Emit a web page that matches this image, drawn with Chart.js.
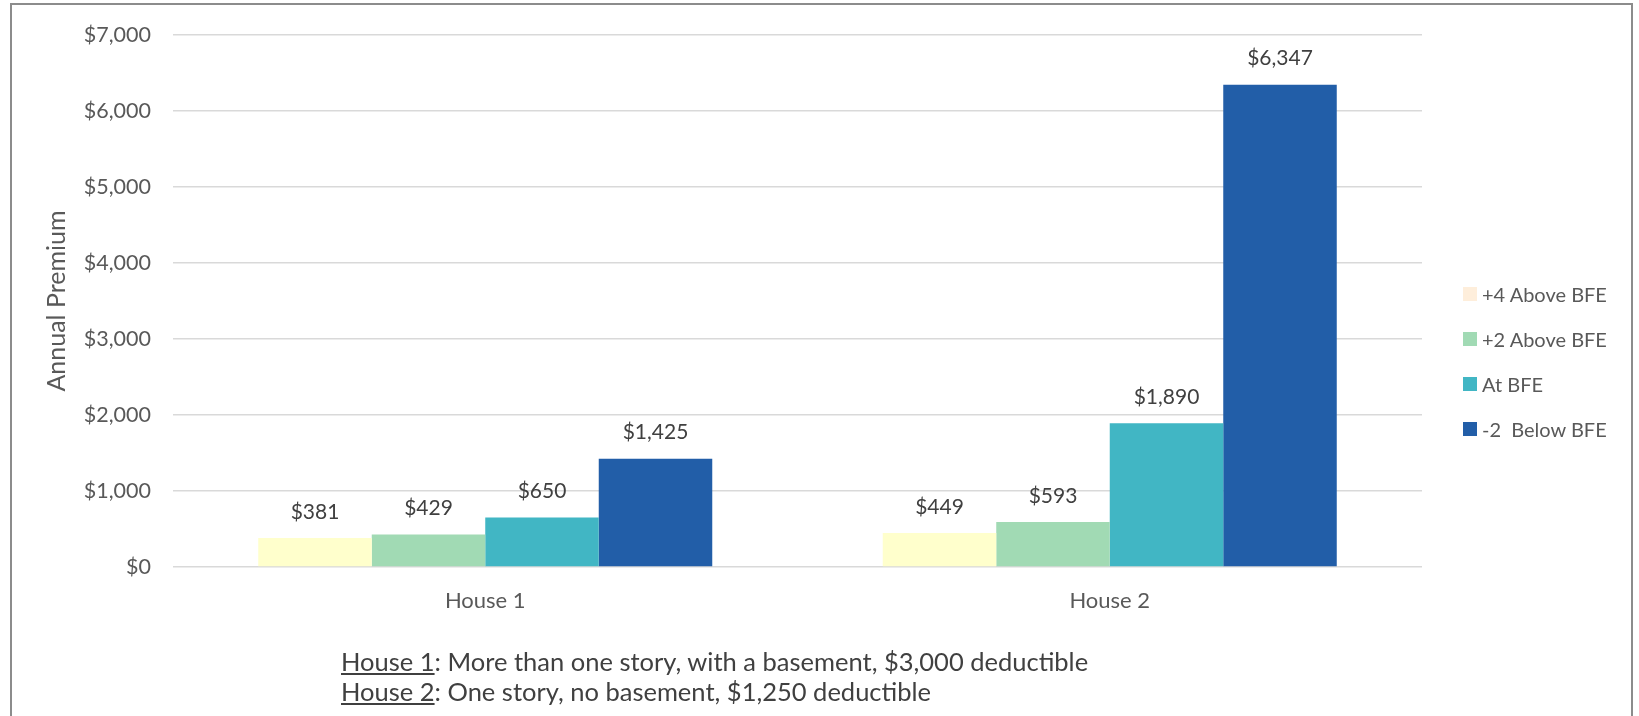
<!DOCTYPE html>
<html>
<head>
<meta charset="utf-8">
<script src="https://cdn.jsdelivr.net/npm/chart.js@4"></script>
<style>
  body { margin: 0; background: #fff; font-family: Lato, sans-serif; }
  #frame {
    position: absolute; left: 10px; top: 3px; width: 1623px; height: 730px;
    border: 2px solid #8c8c8c; box-sizing: border-box;
  }
  #wrap { position: absolute; left: 0; top: 0; width: 1639px; height: 716px; }
  #legend {
    position: absolute; left: 1463px; top: 282px; margin: 0; padding: 0;
    list-style: none; font-size: 20px; color: #595959;
  }
  #legend li { height: 45px; line-height: 24px; display: flex; align-items: flex-start; }
  #legend span { display: inline-block; width: 14px; height: 14px; margin: 5px 5px 0 0; }
  #notes {
    position: absolute; left: 341px; top: 646px;
    font-size: 25.5px; line-height: 30px; color: #404040;
  }
</style>
</head>
<body>
<div id="frame"></div>
<div id="wrap"><canvas id="premiumChart"></canvas></div>
<ul id="legend"></ul>
<div id="notes">
  <div><u>House 1</u>: More than one story, with a basement, $3,000 deductible</div>
  <div><u>House 2</u>: One story, no basement, $1,250 deductible</div>
</div>
<script>
const houses = ["House 1", "House 2"];
const seriesNames = ["+4 Above BFE", "+2 Above BFE", "At BFE", "-2  Below BFE"];
const above4 = [381, 449];
const above2 = [429, 593];
const atBfe = [650, 1890];
const below2 = [1425, 6347];
const yTicks = [0, 1000, 2000, 3000, 4000, 5000, 6000, 7000];

const barColors = ["#FFFFCC", "#A1DAB4", "#41B6C4", "#225EA8"];
const swatchColors = ["#FEEEDB", "#A1DAB4", "#41B6C4", "#225EA8"];

const money = v => "$" + v.toLocaleString("en-US");

// value labels above each bar
const barLabels = {
  id: "barLabels",
  afterDatasetsDraw(chart) {
    const ctx = chart.ctx;
    ctx.save();
    ctx.font = "21px Lato";
    ctx.fillStyle = "#404040";
    ctx.textAlign = "center";
    ctx.textBaseline = "middle";
    chart.data.datasets.forEach((ds, i) => {
      chart.getDatasetMeta(i).data.forEach((bar, j) => {
        ctx.fillText(money(ds.data[j]), bar.x, bar.y - 26);
      });
    });
    ctx.restore();
  }
};

const seriesData = [above4, above2, atBfe, below2];

const chart = new Chart(document.getElementById("premiumChart"), {
  type: "bar",
  data: {
    labels: houses,
    datasets: seriesData.map((d, i) => ({
      label: seriesNames[i],
      data: d,
      backgroundColor: barColors[i],
      borderWidth: 0,
      categoryPercentage: 0.727,
      barPercentage: 1.0,
    })),
  },
  options: {
    responsive: true,
    maintainAspectRatio: false,
    animation: false,
    layout: { padding: { left: 42, right: 217, top: 35, bottom: 0 } },
    plugins: {
      tooltip: { enabled: false },
      legend: { display: false },
    },
    scales: {
      x: {
        grid: { display: false },
        border: { display: false },
        ticks: { font: { family: "Lato", size: 22 }, color: "#595959", padding: 13 },
        afterFit(axis) { axis.height = 149; },
      },
      y: {
        min: 0,
        max: 7000,
        afterBuildTicks(axis) { axis.ticks = yTicks.map(v => ({ value: v })); },
        afterFit(axis) { axis.width = 131; },
        grid: { color: "#d9d9d9", lineWidth: 1.5, drawTicks: false },
        border: { display: false },
        ticks: {
          font: { family: "Lato", size: 21.5 },
          color: "#595959",
          padding: 22,
          callback: v => money(v),
        },
        title: {
          display: true,
          text: "Annual Premium",
          font: { family: "Lato", size: 25 },
          color: "#595959",
          padding: 0,
        },
      },
    },
  },
  plugins: [barLabels],
});

// legend list built from the datasets
const legend = document.getElementById("legend");
chart.data.datasets.forEach((ds, i) => {
  const li = document.createElement("li");
  const box = document.createElement("span");
  box.style.background = swatchColors[i];
  li.appendChild(box);
  li.appendChild(document.createTextNode(ds.label.replace(/ /g, "\u00a0")));
  legend.appendChild(li);
});
</script>
</body>
</html>
